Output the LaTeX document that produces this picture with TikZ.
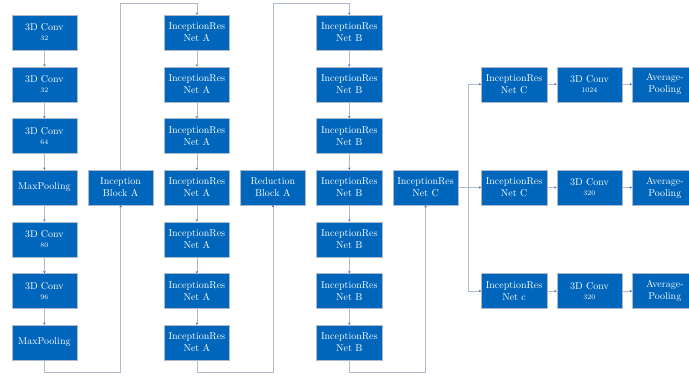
\documentclass[tikz,border=0pt]{standalone}
\usepackage{mathtools}
\usepackage{tikz}
\usetikzlibrary{arrows.meta}
\definecolor{boxblue}{RGB}{0,102,187}
\definecolor{linegray}{RGB}{176,186,200}
\definecolor{tipblue}{RGB}{60,110,170}

\begin{document}
\begin{tikzpicture}[
  layer/.style={draw=linegray, line width=0.3pt, fill=boxblue, text=white, align=center,
    minimum width=2.3cm, minimum height=1.23cm, inner sep=1pt},
  link/.style={draw=linegray, line width=0.5pt},
  flow/.style={link, -{Stealth[length=2.2pt, width=2.4pt, color=tipblue]}}
]
\useasboundingbox (0cm, 0cm) rectangle (24.22cm, 13.22cm);
% stem
\node[layer] (s1) at (1.56cm, 12.08cm) {3D Conv\\[-2pt]{\scriptsize 32}};
\node[layer] (s2) at (1.56cm, 10.26cm) {3D Conv\\[-2pt]{\scriptsize 32}};
\node[layer] (s3) at (1.56cm, 8.44cm) {3D Conv\\[-2pt]{\scriptsize 64}};
\node[layer] (s4) at (1.56cm, 6.63cm) {MaxPooling};
\node[layer] (s5) at (1.56cm, 4.81cm) {3D Conv\\[-2pt]{\scriptsize 80}};
\node[layer] (s6) at (1.56cm, 2.99cm) {3D Conv\\[-2pt]{\scriptsize 96}};
\node[layer] (s7) at (1.56cm, 1.18cm) {MaxPooling};
\node[layer] (ibA) at (4.24cm, 6.63cm) {Inception\\Block A};
% inception-resnet A
\node[layer] (a1) at (6.92cm, 12.08cm) {InceptionRes\\Net A};
\node[layer] (a2) at (6.92cm, 10.26cm) {InceptionRes\\Net A};
\node[layer] (a3) at (6.92cm, 8.44cm) {InceptionRes\\Net A};
\node[layer] (a4) at (6.92cm, 6.63cm) {InceptionRes\\Net A};
\node[layer] (a5) at (6.92cm, 4.81cm) {InceptionRes\\Net A};
\node[layer] (a6) at (6.92cm, 2.99cm) {InceptionRes\\Net A};
\node[layer] (a7) at (6.92cm, 1.18cm) {InceptionRes\\Net A};
\node[layer] (rbA) at (9.59cm, 6.63cm) {Reduction\\Block A};
% inception-resnet B
\node[layer] (b1) at (12.28cm, 12.08cm) {InceptionRes\\Net B};
\node[layer] (b2) at (12.28cm, 10.26cm) {InceptionRes\\Net B};
\node[layer] (b3) at (12.28cm, 8.44cm) {InceptionRes\\Net B};
\node[layer] (b4) at (12.28cm, 6.63cm) {InceptionRes\\Net B};
\node[layer] (b5) at (12.28cm, 4.81cm) {InceptionRes\\Net B};
\node[layer] (b6) at (12.28cm, 2.99cm) {InceptionRes\\Net B};
\node[layer] (b7) at (12.28cm, 1.18cm) {InceptionRes\\Net B};
\node[layer] (c0) at (14.96cm, 6.63cm) {InceptionRes\\Net C};
% heads
\node[layer] (c1) at (18.07cm, 10.26cm) {InceptionRes\\Net C};
\node[layer] (c2) at (18.07cm, 6.63cm) {InceptionRes\\Net C};
\node[layer] (c3) at (18.07cm, 2.99cm) {InceptionRes\\Net c};
\node[layer] (k1) at (20.72cm, 10.26cm) {3D Conv\\[-2pt]{\scriptsize 1024}};
\node[layer] (k2) at (20.72cm, 6.63cm) {3D Conv\\[-2pt]{\scriptsize 320}};
\node[layer] (k3) at (20.72cm, 2.99cm) {3D Conv\\[-2pt]{\scriptsize 320}};
\node[layer] (p1) at (23.37cm, 10.26cm) {Average-\\Pooling};
\node[layer] (p2) at (23.37cm, 6.63cm) {Average-\\Pooling};
\node[layer] (p3) at (23.37cm, 2.99cm) {Average-\\Pooling};
\coordinate (split) at (16.45cm, 6.63cm);
% links
\draw[flow] (s1) -- (s2);
\draw[flow] (s2) -- (s3);
\draw[flow] (s3) -- (s4);
\draw[flow] (s4) -- (s5);
\draw[flow] (s5) -- (s6);
\draw[flow] (s6) -- (s7);
\draw[flow] (s7.south) -- ++(0cm, -0.41cm) -| (ibA.south);
\draw[flow] (ibA.north) |- (5.5cm, 13.09cm) -| (a1.north);
\draw[flow] (a1) -- (a2);
\draw[flow] (a2) -- (a3);
\draw[flow] (a3) -- (a4);
\draw[flow] (a4) -- (a5);
\draw[flow] (a5) -- (a6);
\draw[flow] (a6) -- (a7);
\draw[flow] (a7.south) -- ++(0cm, -0.41cm) -| (rbA.south);
\draw[flow] (rbA.north) |- (11cm, 13.09cm) -| (b1.north);
\draw[flow] (b1) -- (b2);
\draw[flow] (b2) -- (b3);
\draw[flow] (b3) -- (b4);
\draw[flow] (b4) -- (b5);
\draw[flow] (b5) -- (b6);
\draw[flow] (b6) -- (b7);
\draw[flow] (b7.south) -- ++(0cm, -0.41cm) -| (c0.south);
\draw[link] (c0.east) -- (split);
\draw[flow] (split) |- (c1.west);
\draw[flow] (split) -- (c2.west);
\draw[flow] (split) |- (c3.west);
\draw[flow] (c1) -- (k1);
\draw[flow] (c2) -- (k2);
\draw[flow] (c3) -- (k3);
\draw[flow] (k1) -- (p1);
\draw[flow] (k2) -- (p2);
\draw[flow] (k3) -- (p3);
\end{tikzpicture}
\end{document}
